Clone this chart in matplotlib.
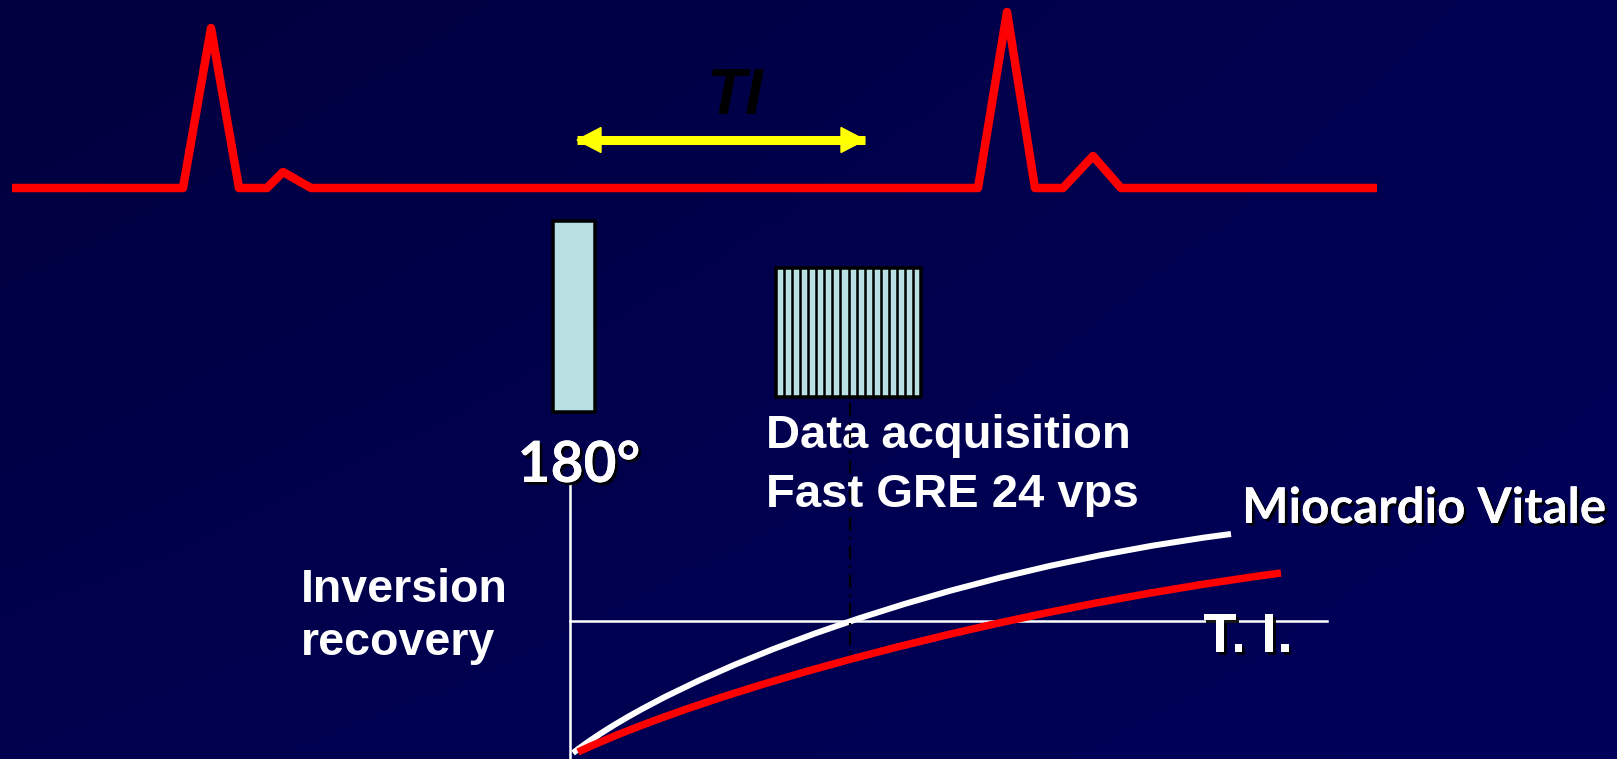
import matplotlib.pyplot as plt
import matplotlib.patheffects as pe
import numpy as np
from matplotlib.patches import Rectangle, Polygon, PathPatch
from matplotlib.path import Path

W, H = 1617, 759

# ECG trace (pixel coords, y down)
ecg_x = [12, 183, 211, 239, 267, 283, 311, 978, 1007, 1035, 1063, 1093, 1121, 1377]
ecg_y = [188, 188, 28, 188, 188, 172, 188, 188, 12, 188, 188, 156, 188, 188]

# TI arrow span
ti_x = [577, 865]
ti_y = 140

# recovery curves after the 180 pulse (cubic bezier: start, two controls, end)
vital_x = [573, 680, 950, 1231]
vital_y = [753, 670, 570, 534]
scar_x = [578, 710, 1000, 1281]
scar_y = [752, 690, 610, 573]

# acquisition window
n_views = 18

def px(v):
    return v * 72 / 100

fig = plt.figure(figsize=(W / 100, H / 100), dpi=100)
ax = fig.add_axes([0, 0, 1, 1])
ax.set_xlim(0, W)
ax.set_ylim(H, 0)
ax.axis('off')

# background gradient
gx, gy = np.meshgrid(np.linspace(0, 1, 200), np.linspace(0, 1, 100))
blue = (62 + 20 * gx + 16 * gy - 8 * gx * gy) / 255
bg = np.dstack([np.zeros_like(blue), np.zeros_like(blue), blue])
ax.imshow(bg, extent=[0, W, H, 0], aspect='auto', zorder=0)

ax.plot(ecg_x, ecg_y, color='#ff0000', lw=px(8.5), solid_joinstyle='round',
        solid_capstyle='butt', zorder=2)

# yellow double arrow
ax.plot(ti_x, [ti_y, ti_y], color='#ffff00', lw=px(9), solid_capstyle='butt', zorder=3)
hl, hw = 24, 12.5
ax.add_patch(Polygon([[ti_x[0], ti_y], [ti_x[0] + hl, ti_y - hw], [ti_x[0] + hl, ti_y + hw]],
                     closed=True, color='#ffff00', zorder=3))
ax.add_patch(Polygon([[ti_x[1], ti_y], [ti_x[1] - hl, ti_y - hw], [ti_x[1] - hl, ti_y + hw]],
                     closed=True, color='#ffff00', zorder=3))
ax.text(735, 114, 'TI', color='black', fontsize=46, fontweight='bold', fontstyle='italic',
        family='Liberation Sans', ha='center', va='baseline', zorder=4)

# 180 pulse and readout blocks
box_fc = '#b9e0e3'
ax.add_patch(Rectangle((553, 221), 42, 191, fc=box_fc, ec='black', lw=px(3.5), zorder=3))
ax.add_patch(Rectangle((776, 268), 145, 129, fc=box_fc, ec='black', lw=px(3.5), zorder=3))
for xs in np.linspace(776, 921, n_views + 1)[1:-1]:
    ax.plot([xs, xs], [268, 397], color='black', lw=px(2.5), zorder=4)

shadow = [pe.withSimplePatchShadow(offset=(2, -2), shadow_rgbFace='black', alpha=0.9), pe.Normal()]

ax.text(579, 482, '180°', color='white', fontsize=41, fontweight='bold', family='Lato',
        ha='center', va='baseline', path_effects=shadow, zorder=5)
ax.text(766, 448, 'Data acquisition', color='white', fontsize=34, fontweight='bold',
        family='Liberation Sans', ha='left', va='baseline', zorder=5)
ax.text(766, 507, 'Fast GRE 24 vps', color='white', fontsize=34, fontweight='bold',
        family='Liberation Sans', ha='left', va='baseline', zorder=5)
ax.text(301, 602, 'Inversion', color='white', fontsize=33.5, fontweight='bold',
        family='Liberation Sans', ha='left', va='baseline', zorder=5)
ax.text(301, 655, 'recovery', color='white', fontsize=33.5, fontweight='bold',
        family='Liberation Sans', ha='left', va='baseline', zorder=5)

# axes of the recovery plot
ax.plot([570, 570], [485, H], color='white', lw=px(2.5), zorder=3)
ax.plot([570, 1327], [621, 621], color='white', lw=px(2.5), zorder=3)
ax.plot([850, 850], [403, 657], color='black', lw=px(2.2), linestyle=(0, (6, 3, 1, 3)), zorder=6)

codes = [Path.MOVETO, Path.CURVE4, Path.CURVE4, Path.CURVE4]
vital = Path(np.column_stack([vital_x, vital_y]), codes)
scar = Path(np.column_stack([scar_x, scar_y]), codes)
ax.add_patch(PathPatch(vital, fc='none', ec='white', lw=px(6), capstyle='butt', zorder=4))
ax.add_patch(PathPatch(scar, fc='none', ec='#ff0000', lw=px(7.5), capstyle='butt', zorder=4))

ax.text(1242, 523, 'Miocardio Vitale', color='white', fontsize=35.5, fontweight='bold',
        family='Lato', ha='left', va='baseline', path_effects=shadow, zorder=5)
ax.text(1203, 652, 'T. I.', color='white', fontsize=40, fontweight='bold',
        family='Liberation Sans', ha='left', va='baseline', path_effects=shadow, zorder=5)

fig.savefig('out.png', dpi=100)
